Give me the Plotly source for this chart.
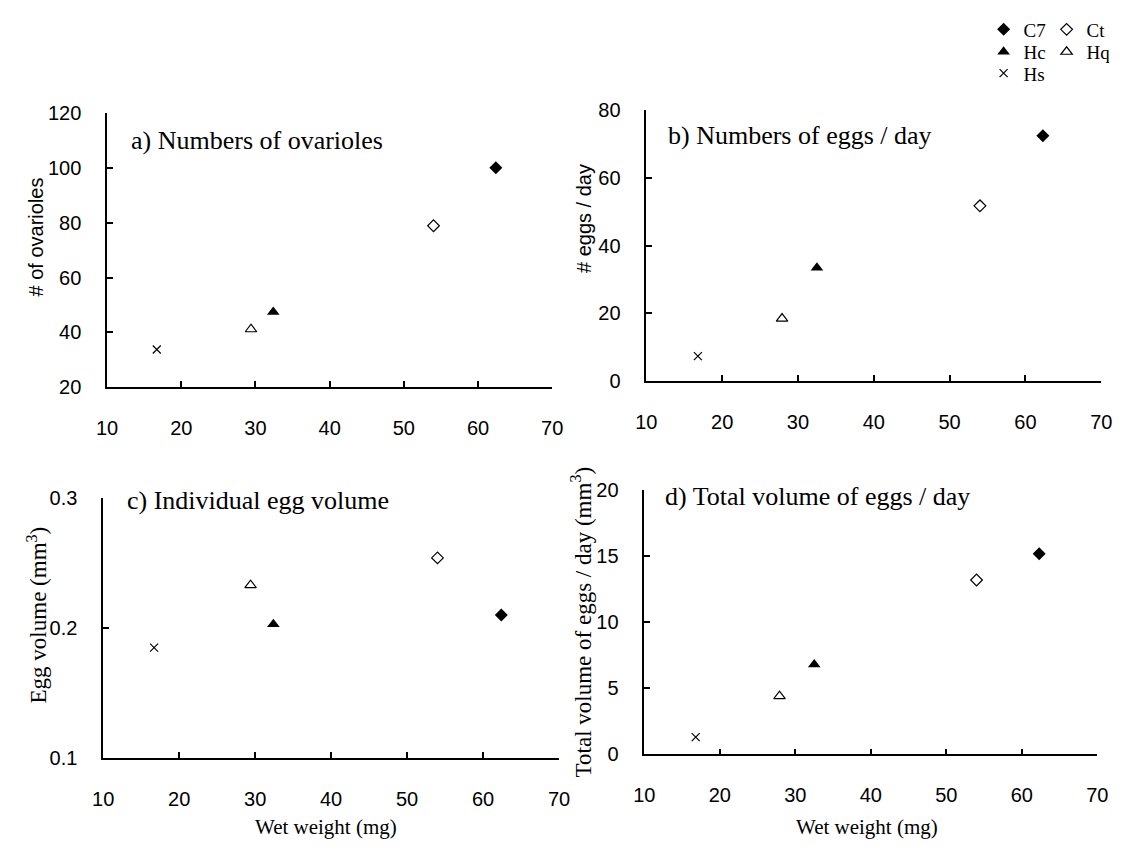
import plotly.graph_objects as go

# Species (legend order) and their marker styles
species = ["C7", "Ct", "Hc", "Hq", "Hs"]

# Wet weight (mg) of the females used for panels a & c and for panels b & d
weight_ac = [62.4, 54.0, 32.4, 29.4, 16.7]
weight_bd = [62.3, 54.0, 32.5, 27.9, 16.8]

# Response variables
ovarioles = [100.1, 78.9, 47.4, 41.1, 33.7]
eggs_per_day = [72.5, 51.8, 33.5, 18.5, 7.4]
egg_volume = [0.210, 0.254, 0.203, 0.233, 0.185]
total_volume = [15.2, 13.2, 6.8, 4.4, 1.3]

# Axis tick values
x_ticks = [10, 20, 30, 40, 50, 60, 70]
ticks_a = [20, 40, 60, 80, 100, 120]
ticks_b = [0, 20, 40, 60, 80]
ticks_c = [0.1, 0.2, 0.3]
ticks_d = [0, 5, 10, 15, 20]

W, H = 1125, 850


def px(x):
    return x / W


def py(y):
    return 1 - y / H


styles = {
    "C7": dict(symbol="diamond", size=10, color="black", line=dict(width=0)),
    "Ct": dict(symbol="diamond-open", size=9, color="black", line=dict(width=1.2)),
    "Hc": dict(symbol="triangle-up", size=11, color="black", line=dict(width=0)),
    "Hq": dict(symbol="triangle-up-open", size=10, color="black", line=dict(width=1.2)),
    "Hs": dict(symbol="x-thin", size=8, color="black", line=dict(width=1.2, color="black")),
}
legend_of = {"C7": "legend", "Ct": "legend", "Hc": "legend2", "Hq": "legend2", "Hs": "legend3"}

panels = [
    ("x", "y", weight_ac, ovarioles),
    ("x2", "y2", weight_bd, eggs_per_day),
    ("x3", "y3", weight_ac, egg_volume),
    ("x4", "y4", weight_bd, total_volume),
]

fig = go.Figure()
for p, (xa, ya, xs, ys) in enumerate(panels):
    for i, sp in enumerate(species):
        fig.add_trace(go.Scatter(
            x=[xs[i]], y=[ys[i]], mode="markers", name=sp,
            marker=styles[sp], xaxis=xa, yaxis=ya,
            showlegend=(p == 0), legend=legend_of[sp], hoverinfo="x+y+name",
        ))

tick_font = dict(family="Liberation Sans Narrow, Liberation Sans, Arial", size=20, color="black")
serif = "Liberation Serif, Times New Roman, serif"


def xaxis(domain, anchor):
    return dict(domain=domain, anchor=anchor, range=[10, 70], tickvals=x_ticks,
                showgrid=False, zeroline=False, showline=True, linecolor="black",
                linewidth=1.5, ticks="inside", ticklen=6, tickwidth=1.5, tickcolor="black",
                tickfont=tick_font, ticklabelstandoff=22, fixedrange=True)


def yaxis(domain, anchor, rng, vals, fmt=None):
    d = dict(domain=domain, anchor=anchor, range=rng, tickvals=vals,
             showgrid=False, zeroline=False, showline=True, linecolor="black",
             linewidth=1.5, ticks="inside", ticklen=6, tickwidth=1.5, tickcolor="black",
             tickfont=tick_font, ticklabelstandoff=20, fixedrange=True)
    if fmt:
        d["tickformat"] = fmt
    return d


layout = dict(
    width=W, height=H, margin=dict(l=0, r=0, t=0, b=0),
    paper_bgcolor="white", plot_bgcolor="white",
    xaxis=xaxis([px(98), px(552)], "y"),
    yaxis=yaxis([py(386), py(105)], "x", [20, 120], ticks_a),
    xaxis2=xaxis([px(648), px(1112)], "y2"),
    yaxis2=yaxis([py(380), py(102)], "x2", [0, 80], ticks_b),
    xaxis3=xaxis([px(94), px(559)], "y3"),
    yaxis3=yaxis([py(767), py(500)], "x3", [0.1, 0.3], ticks_c, ".1f"),
    xaxis4=xaxis([px(646), px(1108)], "y4"),
    yaxis4=yaxis([py(763), py(492)], "x4", [0, 20], ticks_d),
)

# Three stacked horizontal legends give the 2-column key in the top-right corner
leg_common = dict(orientation="h", xanchor="left", yanchor="middle",
                  font=dict(family=serif, size=19, color="black"),
                  bgcolor="rgba(0,0,0,0)", borderwidth=0, entrywidth=18,
                  itemwidth=30, tracegroupgap=0)
layout["legend"] = dict(x=px(992), y=py(19), **leg_common)
layout["legend2"] = dict(x=px(992), y=py(42), **leg_common)
layout["legend3"] = dict(x=px(992), y=py(64), **leg_common)

fig.update_layout(**layout)

title_font = dict(family=serif, size=26, color="black")
axis_font = dict(family=serif, size=23, color="black")
small_font = dict(family="Liberation Sans, Arial", size=20, color="black")
x_title_font = dict(family=serif, size=21, color="black")

annotations = [
    # panel titles
    dict(text="a) Numbers of ovarioles", x=px(120), y=py(133), xanchor="left", font=title_font),
    dict(text="b) Numbers of eggs / day", x=px(668), y=py(128), xanchor="left", font=title_font),
    dict(text="c) Individual egg volume", x=px(116), y=py(503), xanchor="left", font=title_font),
    dict(text="d) Total volume of eggs / day", x=px(665), y=py(498), xanchor="left", font=title_font),
    # y-axis titles
    dict(text="# of ovarioles", x=px(25), y=py(232), textangle=-90, font=small_font),
    dict(text="# eggs / day", x=px(585), y=py(213), textangle=-90, font=small_font),
    dict(text="Egg volume (mm<sup>3</sup>)", x=px(27), y=py(620), textangle=-90, font=axis_font),
    dict(text="Total volume of eggs / day (mm<sup>3</sup>)", x=px(582), y=py(627), textangle=-90, font=axis_font),
    # x-axis titles
    dict(text="Wet weight (mg)", x=px(321), y=py(838), font=x_title_font),
    dict(text="Wet weight (mg)", x=px(873), y=py(838), font=x_title_font),
]
for a in annotations:
    a.update(xref="paper", yref="paper", showarrow=False)
    a.setdefault("xanchor", "center")
    a.setdefault("yanchor", "middle")
fig.update_layout(annotations=annotations)

fig.write_html("out.html")
